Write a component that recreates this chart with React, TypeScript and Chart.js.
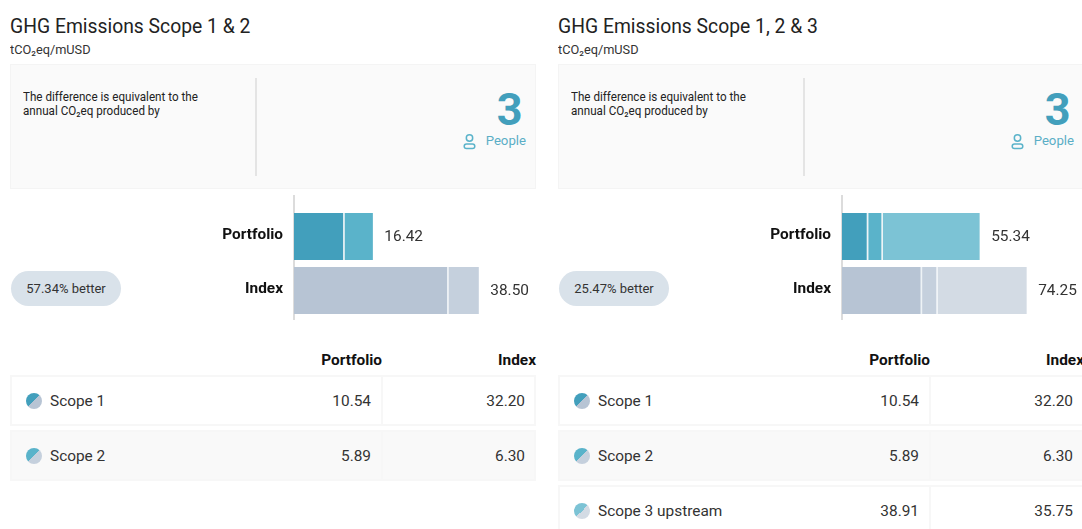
import React, { useEffect, useRef } from "react";
import { Chart, registerables } from "chart.js";

Chart.register(...registerables);

const categories = ["Portfolio", "Index"];
const scopes12 = ["Scope 1", "Scope 2"];
const scopes123 = ["Scope 1", "Scope 2", "Scope 3 upstream"];
const portfolioValues = [10.54, 5.89, 38.91];
const indexValues = [32.2, 6.3, 35.75];
const totals12 = ["16.42", "38.50"];
const totals123 = ["55.34", "74.25"];
const portfolioText = ["10.54", "5.89", "38.91"];
const indexText = ["32.20", "6.30", "35.75"];
const portfolioColors = ["#429fbc", "#5ab3ca", "#7cc3d5"];
const indexColors = ["#b7c4d4", "#c5d0dd", "#d3dbe4"];

const FONT = "Roboto, sans-serif";

function Bars({ count, max, totals }: { count: number; max: number; totals: string[] }) {
  const ref = useRef<HTMLCanvasElement>(null);
  useEffect(() => {
    const totalLabels = {
      id: "totalLabels",
      afterDatasetsDraw(chart: any) {
        const { ctx } = chart;
        const meta = chart.getDatasetMeta(chart.data.datasets.length - 1);
        ctx.save();
        ctx.font = `15.4px ${FONT}`;
        ctx.fillStyle = "#333";
        ctx.textBaseline = "middle";
        ctx.textAlign = "left";
        meta.data.forEach((bar: any, i: number) => ctx.fillText(totals[i], bar.x + 11.5, bar.y + 1));
        ctx.restore();
      },
    };
    const axisLine = {
      id: "axisLine",
      beforeDatasetsDraw(chart: any) {
        const { ctx, chartArea, height } = chart;
        ctx.save();
        ctx.fillStyle = "#dcdcdc";
        ctx.fillRect(chartArea.left - 1, 0, 2, height);
        ctx.restore();
      },
    };
    const chart = new Chart(ref.current as HTMLCanvasElement, {
      type: "bar",
      data: {
        labels: categories,
        datasets: portfolioValues.slice(0, count).map((v, i) => ({
          label: scopes123[i],
          data: [v, indexValues[i]],
          backgroundColor: [portfolioColors[i], indexColors[i]],
          borderColor: "#eef3f6",
          borderWidth: i < count - 1 ? { right: 1.5 } : 0,
          borderSkipped: false,
          categoryPercentage: 0.87,
          barPercentage: 1,
        })),
      },
      options: {
        indexAxis: "y",
        animation: false,
        responsive: false,
        devicePixelRatio: 1,
        layout: { padding: { top: 14.5, bottom: 2.5, right: 5 } },
        plugins: { legend: { display: false }, tooltip: { enabled: false } },
        scales: {
          x: { stacked: true, display: false, min: 0, max },
          y: {
            stacked: true,
            grid: { display: false, drawTicks: false },
            border: { display: false },
            afterFit(scale: any) {
              scale.width = 100;
              scale.paddingTop = 0;
              scale.paddingBottom = 0;
            },
            ticks: {
              padding: 11,
              labelOffset: -1.5,
              color: "#111",
              font: { family: FONT, size: 15.4, weight: "bold" },
            },
          },
        },
      } as any,
      plugins: [axisLine, totalLabels],
    } as any);
    return () => chart.destroy();
  }, [count, max, totals]);
  return <canvas ref={ref} width={345} height={125} style={{ position: "absolute", left: 184, top: 195, display: "block" }} />;
}

const abs = (s: React.CSSProperties): React.CSSProperties => ({ position: "absolute", whiteSpace: "nowrap", ...s });

function Panel(props: {
  left: number;
  title: string;
  better: string;
  count: number;
  max: number;
  totals: string[];
  scopes: string[];
}) {
  const { left, title, better, count, max, totals, scopes } = props;
  return (
    <div style={{ position: "absolute", left, top: 0, width: 526, height: 529, fontFamily: FONT, color: "#333" }}>
      <div style={abs({ left: 0, top: 13, fontSize: 21, lineHeight: "26px", color: "#222", transform: "scaleX(0.92)", transformOrigin: "left" })}>{title}</div>
      <div style={abs({ left: 0, top: 42, fontSize: 13, lineHeight: "16px", transform: "scaleX(0.98)", transformOrigin: "left" })}>tCO₂eq/mUSD</div>

      <div style={{ position: "absolute", left: 0, top: 64, width: 524, height: 123, background: "#fafafa", border: "1px solid #f4f4f4" }} />
      <div style={abs({ left: 13, top: 89.5, fontSize: 13, lineHeight: "14.5px", color: "#222", transform: "scaleX(0.895)", transformOrigin: "left" })}>
        The difference is equivalent to the
        <br />
        annual CO₂eq produced by
      </div>
      <div style={{ position: "absolute", left: 245, top: 78, width: 2, height: 98, background: "#e4e4e4" }} />
      <div style={abs({ right: 13.5, top: 90, fontSize: 45, lineHeight: "40px", fontWeight: 700, color: "#429fbc" })}>3</div>
      <svg style={{ position: "absolute", left: 452, top: 133 }} width={15} height={17} viewBox="0 0 15 17" fill="none" stroke="#5ab3ca" strokeWidth={1.5}>
        <circle cx={7.5} cy={5} r={3.2} />
        <rect x={2.2} y={11} width={10.6} height={4.6} rx={2.3} />
      </svg>
      <div style={abs({ right: 10, top: 133, fontSize: 13.2, lineHeight: "16px", color: "#5aaec6" })}>People</div>

      <div style={abs({ left: 1, top: 271, width: 110, height: 35, borderRadius: 18, background: "#d9e2ea", textAlign: "center", fontSize: 13, lineHeight: "36px" })}>{better}</div>
      <Bars count={count} max={max} totals={totals} />

      <div style={abs({ right: 526 - 372, top: 352, fontSize: 15.4, lineHeight: "17px", fontWeight: 700, color: "#111" })}>Portfolio</div>
      <div style={abs({ right: 0, top: 352, fontSize: 15.4, lineHeight: "17px", fontWeight: 700, color: "#111" })}>Index</div>

      {scopes.map((s, i) => {
        const top = 375 + i * 55;
        const bg = i % 2 ? "#f9f9f9" : "#fff";
        return (
          <React.Fragment key={s}>
            <div style={{ position: "absolute", left: 0, top, width: 370, height: 47, border: "2px solid #f7f7f7", borderRight: "none", background: bg }} />
            <div style={{ position: "absolute", left: 371, top, width: 151, height: 47, border: "2px solid #f7f7f7", background: bg }} />
            <div
              style={{
                position: "absolute",
                left: 16,
                top: top + 18,
                width: 16,
                height: 16,
                borderRadius: 8,
                background: `linear-gradient(135deg, ${portfolioColors[i]} 50%, ${indexColors[i]} 50%)`,
              }}
            />
            <div style={abs({ left: 40, top: top + 17, fontSize: 15.4, lineHeight: "18px" })}>{s}</div>
            <div style={abs({ right: 526 - 361, top: top + 17, fontSize: 15.4, lineHeight: "18px" })}>{portfolioText[i]}</div>
            <div style={abs({ right: 11, top: top + 17, fontSize: 15.4, lineHeight: "18px" })}>{indexText[i]}</div>
          </React.Fragment>
        );
      })}
    </div>
  );
}

export default function App() {
  return (
    <div style={{ position: "fixed", left: 0, top: 0, width: 1082, height: 529, overflow: "hidden", background: "#fff" }}>
      <Panel left={10} title="GHG Emissions Scope 1 & 2" better="57.34% better" count={2} max={50} totals={totals12} scopes={scopes12} />
      <Panel left={558} title="GHG Emissions Scope 1, 2 & 3" better="25.47% better" count={3} max={96.5} totals={totals123} scopes={scopes123} />
    </div>
  );
}
